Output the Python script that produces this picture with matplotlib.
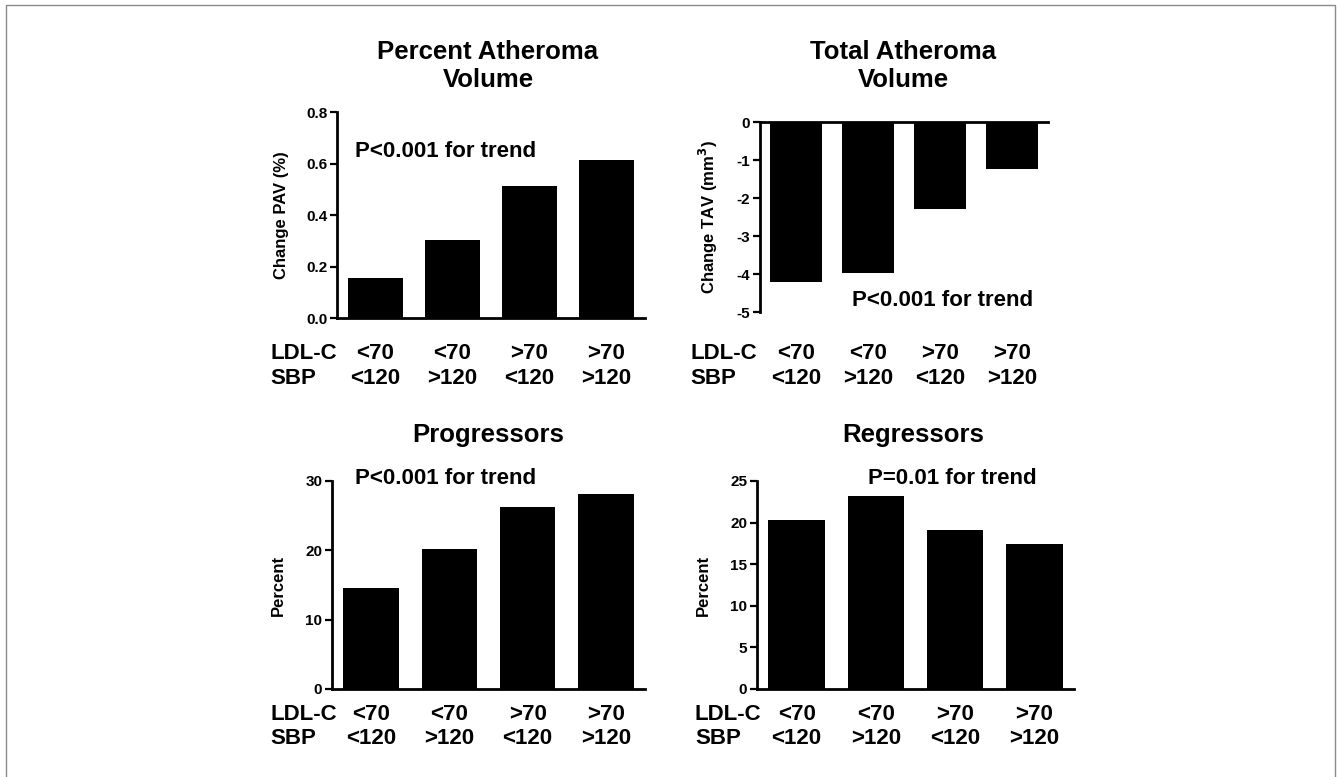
import matplotlib
matplotlib.use("Agg")
import matplotlib.pyplot as plt
from matplotlib.patches import Rectangle
from matplotlib.transforms import blended_transform_factory

plt.rcParams['font.family'] = ['Liberation Sans', 'DejaVu Sans']
plt.rcParams['font.weight'] = 'bold'
plt.rcParams['axes.unicode_minus'] = False

# data
ldl = ['<70', '<70', '>70', '>70']
sbp = ['<120', '>120', '<120', '>120']
pav = [0.155, 0.303, 0.513, 0.614]
tav = [-4.2, -3.97, -2.29, -1.24]
progressors = [14.6, 20.2, 26.3, 28.1]
regressors = [20.3, 23.2, 19.1, 17.4]

W, H = 1341, 777
fig = plt.figure(figsize=(W / 100, H / 100), dpi=100)

def px(x0, y_top, x1, y_bot):
    return [x0 / W, 1 - y_bot / H, (x1 - x0) / W, (y_bot - y_top) / H]

def style(ax):
    for s in ['right', 'top', 'bottom']:
        ax.spines[s].set_visible(False)
    ax.spines['left'].set_linewidth(2)
    ax.tick_params(axis='y', length=5, width=1.6, labelsize=11, pad=2)
    ax.set_xlim(-0.5, 3.5)
    ax.set_xticks([])
    for lab in ax.get_yticklabels():
        lab.set_fontweight('bold')

def groups(ax, y1, y2, xhead):
    tr = blended_transform_factory(ax.transData, fig.transFigure)
    for i in range(4):
        ax.text(i, 1 - y1 / H, ldl[i], transform=tr, ha='center', va='center', fontsize=16, fontweight='bold')
        ax.text(i, 1 - y2 / H, sbp[i], transform=tr, ha='center', va='center', fontsize=16, fontweight='bold')
    fig.text(xhead / W, 1 - y1 / H, 'LDL-C', ha='left', va='center', fontsize=16, fontweight='bold')
    fig.text(xhead / W, 1 - y2 / H, 'SBP', ha='left', va='center', fontsize=16, fontweight='bold')

def title(xc, yc, s):
    fig.text(xc / W, 1 - yc / H, s, ha='center', va='center', fontsize=18.5, fontweight='bold', linespacing=1.17)

x = list(range(4))

# Percent Atheroma Volume
ax1 = fig.add_axes(px(337, 112, 645, 318))
ax1.bar(x, pav, width=0.71, color='black')
ax1.set_ylim(0, 0.8)
ax1.set_yticks([0, 0.2, 0.4, 0.6, 0.8])
ax1.set_yticklabels(['0.0', '0.2', '0.4', '0.6', '0.8'])
style(ax1)
ax1.spines['bottom'].set_visible(True)
ax1.spines['bottom'].set_linewidth(2)
ax1.set_ylabel('Change PAV (%)', fontsize=12, fontweight='bold', labelpad=12)
ax1.text(0.058, 0.806, 'P<0.001 for trend', transform=ax1.transAxes, ha='left', va='center', fontsize=16, fontweight='bold')
title(488, 66, 'Percent Atheroma\nVolume')
groups(ax1, 353, 378, 270)

# Total Atheroma Volume
ax2 = fig.add_axes(px(760, 122, 1048, 312))
ax2.bar(x, tav, width=0.71, color='black')
ax2.set_ylim(-5, 0)
ax2.set_yticks([0, -1, -2, -3, -4, -5])
style(ax2)
ax2.spines['top'].set_visible(True)
ax2.spines['top'].set_linewidth(2)
ax2.set_ylabel('Change TAV (mm$^\\mathbf{3}$)', fontsize=12, fontweight='bold', labelpad=12)
ax2.text(0.319, 0.063, 'P<0.001 for trend', transform=ax2.transAxes, ha='left', va='center', fontsize=16, fontweight='bold')
title(903, 66, 'Total Atheroma\nVolume')
groups(ax2, 353, 378, 690)

# Progressors
ax3 = fig.add_axes(px(332, 481, 645, 689))
ax3.bar(x, progressors, width=0.71, color='black')
ax3.set_ylim(0, 30)
ax3.set_yticks([0, 10, 20, 30])
style(ax3)
ax3.spines['bottom'].set_visible(True)
ax3.spines['bottom'].set_linewidth(2)
ax3.set_ylabel('Percent', fontsize=12, fontweight='bold', labelpad=14)
ax3.text(0.073, 1.014, 'P<0.001 for trend', transform=ax3.transAxes, ha='left', va='center', fontsize=16, fontweight='bold')
title(488, 435, 'Progressors')
groups(ax3, 714, 739, 270)

# Regressors
ax4 = fig.add_axes(px(757, 481, 1074, 689))
ax4.bar(x, regressors, width=0.71, color='black')
ax4.set_ylim(0, 25)
ax4.set_yticks([0, 5, 10, 15, 20, 25])
style(ax4)
ax4.spines['bottom'].set_visible(True)
ax4.spines['bottom'].set_linewidth(2)
ax4.set_ylabel('Percent', fontsize=12, fontweight='bold', labelpad=14)
ax4.text(0.35, 1.014, 'P=0.01 for trend', transform=ax4.transAxes, ha='left', va='center', fontsize=16, fontweight='bold')
title(913, 435, 'Regressors')
groups(ax4, 714, 739, 695)

# thin frame around the figure
fig.patches.append(Rectangle((6 / W, -0.01), 1329 / W, 1 - 5 / H + 0.01, transform=fig.transFigure,
                             fill=False, edgecolor='#8a8a8a', linewidth=1))

fig.savefig('out.png', dpi=100)
